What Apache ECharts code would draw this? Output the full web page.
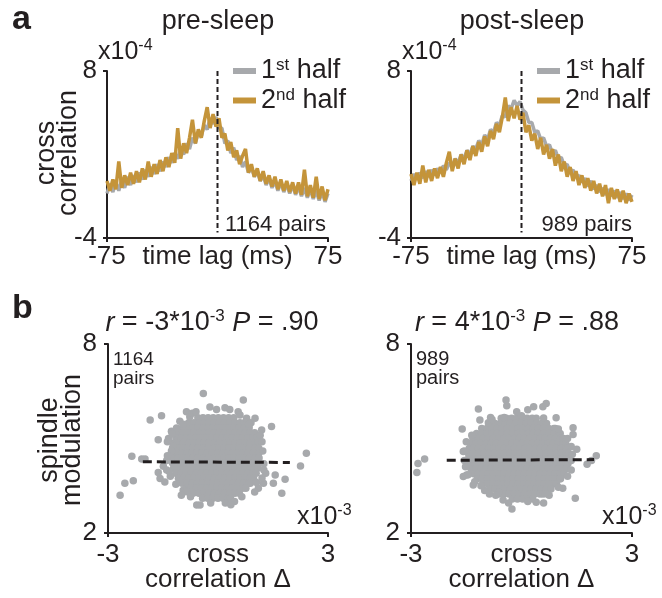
<!DOCTYPE html>
<html><head><meta charset="utf-8">
<script src="https://cdn.jsdelivr.net/npm/echarts@6/dist/echarts.min.js"></script>
<style>html,body{margin:0;padding:0;background:#fff}#c{width:662px;height:598px}</style>
</head><body><div id="c"></div>
<script>
// ---------- data ----------
const lags = [-75,-73,-71,-69,-67,-65,-63,-61,-59,-57,-55,-53,-51,-49,-47,-45,-43,-41,-39,-37,-35,-33,-31,-29,-27,-25,-23,-21,-19,-17,-15,-13,-11,-9,-7,-5,-3,-1,1,3,5,7,9,11,13,15,17,19,21,23,25,27,29,31,33,35,37,39,41,43,45,47,49,51,53,55,57,59,61,63,65,67,69,71,73,75];
// cross correlation (x10^-4)
const preFirst = [-0.8,-0.1,-0.7,0.0,-0.6,0.2,-0.4,0.4,-0.2,0.5, 0.0,0.7,0.2,0.9,0.4,1.1,0.6,1.3,0.8,1.5, 1.1,1.8,1.4,2.1,1.7,2.4,2.0,2.8,2.4,3.2, 2.8,3.6,3.3,4.1,3.8,4.6,4.2,4.7,3.9,3.9, 2.8,3.0,2.1,2.5,1.6,1.9,1.1,1.5,0.7,1.1, 0.4,0.8,0.1,0.5,-0.2,0.3,-0.4,0.1,-0.6,0.0, -0.7,-0.1,-0.8,-0.2,-0.9,-0.3,-1.0,-0.4,-1.1,-0.5, -1.2,-0.6,-1.3,-0.7,-1.4,-0.8];
const preSecond = [0.1,-0.6,0.2,-0.5,1.5,-0.4,0.5,-0.2,0.7,-0.1, 0.8,0.0,1.0,0.2,1.5,0.4,1.3,0.6,1.6,0.8, 1.8,1.1,2.1,1.4,3.9,1.7,2.8,2.1,3.2,4.5, 2.8,3.8,3.2,4.4,5.4,3.9,4.9,4.0,4.6,3.2, 3.5,2.3,2.9,1.8,2.3,1.3,1.9,2.4,0.7,1.3, 0.4,1.0,0.1,0.8,-0.1,0.5,-0.3,0.4,-0.5,0.2, -0.6,0.1,-0.7,0.0,-0.8,0.0,-0.9,0.9,-1.0,-0.2, -1.1,0.4,-1.2,-0.3,-1.3,-0.5];
const postFirst = [0.1,0.6,0.2,0.7,0.3,0.8,0.4,0.9,0.5,1.0, 0.7,1.2,0.9,1.4,1.1,1.7,1.4,2.0,1.7,2.3, 2.0,2.6,2.4,3.0,2.7,3.4,3.1,3.8,3.6,4.3, 4.1,4.8,4.7,5.5,5.3,5.9,5.5,5.8,5.2,5.0, 4.3,4.3,3.6,3.7,3.1,3.2,2.6,2.7,2.1,2.3, 1.7,1.8,1.2,1.3,0.7,0.9,0.4,0.5,0.0,0.3, -0.3,0.1,-0.5,-0.2,-0.7,-0.4,-0.9,-0.5,-1.0,-0.6, -1.1,-0.7,-1.2,-0.8,-1.3,-0.9];
const postSecond = [0.6,-0.2,0.7,-0.1,1.2,0.0,0.9,0.1,1.0,0.3, 1.1,0.4,1.4,2.2,0.8,1.7,1.0,2.0,1.3,2.3, 1.6,2.6,1.9,2.9,2.2,3.3,2.6,3.7,3.1,4.2, 3.6,4.7,6.1,4.4,5.4,4.6,5.5,4.5,5.0,3.6, 4.1,3.0,3.5,2.4,3.2,2.0,2.7,1.7,2.4,1.2, 2.0,0.8,1.5,0.4,1.1,0.1,0.8,-0.2,0.5,-0.4, 0.3,-0.6,0.1,-0.8,-0.1,-1.0,-0.2,-1.5,-0.4,-1.2, -0.5,-1.4,-0.6,-1.5,-0.8,-1.4];
const zeroLagLine = [[0, 8], [0, -3.6]];
const topYTicks = [-4, 8];
const topXTicks = [-75, 75];

// spindle modulation vs cross correlation delta (x10^-3)
// dense core of each cloud, read row by row: [y, [x, x, ...]]
const preCoreRows = [
 [5.66, [-0.55,-0.41,-0.27,-0.13,0.01,0.15,0.29,0.43]],
 [5.50, [-0.80,-0.66,-0.52,-0.38,-0.24,-0.10,0.04,0.18,0.32,0.46,0.60,0.72]],
 [5.34, [-0.97,-0.83,-0.69,-0.55,-0.41,-0.27,-0.13,0.01,0.15,0.29,0.43,0.57,0.71,0.85]],
 [5.18, [-1.08,-0.94,-0.80,-0.66,-0.52,-0.38,-0.24,-0.10,0.04,0.18,0.32,0.46,0.60,0.74,0.88,1.00]],
 [5.02, [-1.15,-1.01,-0.87,-0.73,-0.59,-0.45,-0.31,-0.17,-0.03,0.11,0.25,0.39,0.53,0.67,0.81,0.95,1.06]],
 [4.86, [-1.21,-1.08,-0.94,-0.80,-0.66,-0.52,-0.38,-0.24,-0.10,0.04,0.18,0.32,0.46,0.60,0.74,0.88,1.02,1.09]],
 [4.70, [-1.24,-1.10,-0.96,-0.82,-0.68,-0.54,-0.40,-0.26,-0.12,0.02,0.16,0.30,0.44,0.58,0.72,0.86,1.00,1.11]],
 [4.54, [-1.25,-1.13,-0.99,-0.85,-0.71,-0.57,-0.43,-0.29,-0.15,-0.01,0.13,0.27,0.41,0.55,0.69,0.83,0.97,1.11]],
 [4.38, [-1.25,-1.10,-0.96,-0.82,-0.68,-0.54,-0.40,-0.26,-0.12,0.02,0.16,0.30,0.44,0.58,0.72,0.86,1.00,1.12]],
 [4.22, [-1.24,-1.13,-0.99,-0.85,-0.71,-0.57,-0.43,-0.29,-0.15,-0.01,0.13,0.27,0.41,0.55,0.69,0.83,0.97,1.11]],
 [4.06, [-1.21,-1.08,-0.94,-0.80,-0.66,-0.52,-0.38,-0.24,-0.10,0.04,0.18,0.32,0.46,0.60,0.74,0.88,1.02,1.09]],
 [3.90, [-1.15,-1.01,-0.87,-0.73,-0.59,-0.45,-0.31,-0.17,-0.03,0.11,0.25,0.39,0.53,0.67,0.81,0.95,1.04]],
 [3.74, [-1.08,-0.94,-0.80,-0.66,-0.52,-0.38,-0.24,-0.10,0.04,0.18,0.32,0.46,0.60,0.74,0.88,0.97]],
 [3.58, [-0.98,-0.84,-0.70,-0.56,-0.42,-0.28,-0.14,0.00,0.14,0.28,0.42,0.56,0.70,0.84,0.88]],
 [3.42, [-0.86,-0.73,-0.59,-0.45,-0.31,-0.17,-0.03,0.11,0.25,0.39,0.53,0.67,0.76]],
 [3.26, [-0.68,-0.52,-0.38,-0.24,-0.10,0.04,0.18,0.32,0.46,0.58]],
 [3.10, [-0.42,-0.28,-0.14,0.00,0.14,0.28,0.34]]
];
const preOutliers = [
 [-0.40,6.43],[0.69,6.22],[-0.22,6.0],[-0.04,5.92],[0.19,5.98],[0.32,5.92],[0.55,5.85],[-0.86,5.85],[-0.77,5.69],[-1.54,5.72],[-1.85,5.59],[0.78,5.64],[1.01,5.64],[1.46,5.38],[1.19,5.27],[-1.63,4.96],[2.41,4.53],[-2.35,4.44],[-2.08,4.35],[-1.99,4.35],[2.25,4.13],[1.83,3.71],[1.56,3.84],[1.51,3.58],[-2.54,3.58],[-2.31,3.66],[-2.67,3.20],[-1.58,3.73],[-1.45,3.62],[-1.63,3.92],[1.74,3.26],[-0.58,2.89],[-0.49,2.89],[1.24,3.58],[1.10,3.42],[-0.95,3.36],[-0.86,3.31],[-1.27,5.23],[-1.13,5.33],[-1.04,5.55],[-1.22,4.76],[-1.27,4.6],[-1.49,4.12],[-1.40,4.0],
 [-1.35,5.0],[1.2,4.9],[1.25,4.2],[-1.38,4.45],[1.0,3.3],[-1.0,3.2],[0.2,2.95],[0.45,3.0],[-0.7,5.8],[0.9,5.5],[-1.3,3.8],[1.3,3.9],
 [-1.38,4.9],[-1.4,4.3],[-1.33,3.95],[1.22,4.6],[1.25,4.0],[1.15,5.1],[1.05,3.6],[-1.15,3.55],[-0.95,5.45],[0.85,5.45],[-0.6,5.85],[0.6,5.75],[-0.75,3.15],[0.65,3.15],[-0.2,2.95],[0.35,2.9],[1.2,3.75],[-1.25,5.15]
];
const postCoreRows = [
 [5.64, [-0.55,-0.41,-0.27,-0.13,0.01,0.15,0.29,0.40]],
 [5.48, [-0.86,-0.72,-0.58,-0.44,-0.30,-0.16,-0.02,0.12,0.26,0.40,0.54,0.68]],
 [5.32, [-1.08,-0.94,-0.80,-0.66,-0.52,-0.38,-0.24,-0.10,0.04,0.18,0.32,0.46,0.60,0.74,0.88,0.92]],
 [5.16, [-1.22,-1.08,-0.94,-0.80,-0.66,-0.52,-0.38,-0.24,-0.10,0.04,0.18,0.32,0.46,0.60,0.74,0.88,1.02,1.05]],
 [5.00, [-1.32,-1.18,-1.04,-0.90,-0.76,-0.62,-0.48,-0.34,-0.20,-0.06,0.08,0.22,0.36,0.50,0.64,0.78,0.92,1.06,1.14]],
 [4.84, [-1.38,-1.24,-1.10,-0.96,-0.82,-0.68,-0.54,-0.40,-0.26,-0.12,0.02,0.16,0.30,0.44,0.58,0.72,0.86,1.00,1.14,1.20]],
 [4.68, [-1.42,-1.31,-1.17,-1.03,-0.89,-0.75,-0.61,-0.47,-0.33,-0.19,-0.05,0.09,0.23,0.37,0.51,0.65,0.79,0.93,1.07,1.21,1.25]],
 [4.52, [-1.44,-1.30,-1.16,-1.02,-0.88,-0.74,-0.60,-0.46,-0.32,-0.18,-0.04,0.10,0.24,0.38,0.52,0.66,0.80,0.94,1.08,1.22,1.28]],
 [4.36, [-1.44,-1.31,-1.17,-1.03,-0.89,-0.75,-0.61,-0.47,-0.33,-0.19,-0.05,0.09,0.23,0.37,0.51,0.65,0.79,0.93,1.07,1.21,1.28]],
 [4.20, [-1.42,-1.30,-1.16,-1.02,-0.88,-0.74,-0.60,-0.46,-0.32,-0.18,-0.04,0.10,0.24,0.38,0.52,0.66,0.80,0.94,1.08,1.22,1.26]],
 [4.04, [-1.37,-1.24,-1.10,-0.96,-0.82,-0.68,-0.54,-0.40,-0.26,-0.12,0.02,0.16,0.30,0.44,0.58,0.72,0.86,1.00,1.14,1.22]],
 [3.88, [-1.30,-1.18,-1.04,-0.90,-0.76,-0.62,-0.48,-0.34,-0.20,-0.06,0.08,0.22,0.36,0.50,0.64,0.78,0.92,1.06,1.15]],
 [3.72, [-1.20,-1.06,-0.92,-0.78,-0.64,-0.50,-0.36,-0.22,-0.08,0.06,0.20,0.34,0.48,0.62,0.76,0.90,1.04,1.06]],
 [3.56, [-1.05,-0.92,-0.78,-0.64,-0.50,-0.36,-0.22,-0.08,0.06,0.20,0.34,0.48,0.62,0.76,0.90,0.95]],
 [3.40, [-0.86,-0.72,-0.58,-0.44,-0.30,-0.16,-0.02,0.12,0.26,0.40,0.54,0.68,0.80]],
 [3.24, [-0.62,-0.48,-0.34,-0.20,-0.06,0.08,0.22,0.36,0.50,0.58]],
 [3.08, [-0.25,-0.11,0.03,0.17,0.30]]
];
const postOutliers = [
 [-2.81,4.21],[-2.63,4.35],[-2.84,3.92],[-0.42,6.22],[-0.40,6.04],[-1.17,5.94],[-0.84,5.67],[-0.47,5.67],[-1.13,5.59],[-0.13,5.85],[0.0,5.72],[0.17,5.91],[0.33,6.01],[0.58,6.01],[0.67,6.11],[0.94,5.66],[-1.61,5.30],[1.40,5.34],[1.40,5.13],[1.50,4.66],[2.03,4.45],[1.78,4.18],[1.90,4.30],[-1.58,4.59],[-1.49,3.84],[-1.58,3.79],[-1.31,3.52],[-1.27,3.63],[-0.87,3.24],[-0.62,3.30],[-0.26,2.76],[0.17,3.0],[1.12,3.42],[1.46,3.10],
 [-1.55,4.3],[-1.5,4.9],[1.35,4.0],[1.35,4.75],[-1.0,3.35],[0.75,3.2],[1.0,5.3],[-0.9,5.5],[0.6,2.95],[-0.5,3.05],
 [-1.55,4.6],[-1.52,4.1],[-1.45,3.85],[1.38,4.5],[1.35,4.3],[1.25,3.8],[1.25,5.0],[-1.35,5.1],[-1.1,3.5],[1.0,3.45],[-0.8,5.6],[0.6,5.65],[-0.7,3.2],[0.65,3.25],[-0.35,2.95],[0.4,2.98]
];
const preFit = [[-2.05, 4.26], [1.96, 4.24]];
const postFit = [[-2.03, 4.31], [1.97, 4.33]];
const botYTicks = [2, 8];
const botXTicks = [-3, 3];

// ---------- styling ----------
const F = '"Liberation Sans", Arial, sans-serif';
const TXT = '#231f20';
const GRAY = '#a7a9ac';
const GOLD = '#c4943a';
const zip = (xs, ys) => xs.map((x, i) => [x, ys[i]]);
const fromRows = rows => rows.flatMap(([y, xs]) => xs.map(x => [x, y]));

function xAxis(grid, ticks, name, nameGap, margin, lh) {
  return {
    type: 'value', gridIndex: grid, min: ticks[0], max: ticks[1],
    name, nameLocation: 'middle', nameGap, nameMoveOverlap: false,
    nameTextStyle: { color: TXT, fontFamily: F, fontSize: 26, lineHeight: lh },
    axisLine: { show: true, onZero: false, lineStyle: { color: TXT, width: 2 } },
    axisTick: { show: true, length: 4, customValues: ticks, lineStyle: { color: TXT, width: 2 } },
    axisLabel: { customValues: ticks, margin, color: TXT, fontFamily: F, fontSize: 26, lineHeight: 26, hideOverlap: false },
    splitLine: { show: false }
  };
}
function yAxis(grid, ticks, margin) {
  return {
    type: 'value', gridIndex: grid, min: ticks[0], max: ticks[1],
    axisLine: { show: true, onZero: false, lineStyle: { color: TXT, width: 2 } },
    axisTick: { show: true, length: 4, customValues: ticks, lineStyle: { color: TXT, width: 2 } },
    axisLabel: { customValues: ticks, margin, color: TXT, fontFamily: F, fontSize: 26 },
    splitLine: { show: false }
  };
}
const legendRich = {
  n: { fontFamily: F, fontSize: 27, lineHeight: 28, color: TXT },
  s: { fontFamily: F, fontSize: 17, lineHeight: 16, color: TXT, verticalAlign: 'top' }
};
const legendFmt = n => n === 'first' ? '{n|1}{s|st}{n| half}' : '{n|2}{s|nd}{n| half}';
function legend(left) {
  return { data: ['first', 'second'], left, top: 57, orient: 'vertical', icon: 'rect',
    itemWidth: 23, itemHeight: 6, itemGap: 2, padding: 0, selectedMode: false,
    formatter: legendFmt, textStyle: { rich: legendRich } };
}
function lineSeries(name, axis, ys, color) {
  return { type: 'line', name, xAxisIndex: axis, yAxisIndex: axis, data: zip(lags, ys),
    showSymbol: false, symbol: 'none', lineStyle: { color, width: 3.5 }, itemStyle: { color },
    emphasis: { disabled: true }, silent: true };
}
function dashed(axis, data, dash, width) {
  return { type: 'line', name: 'ref', xAxisIndex: axis, yAxisIndex: axis, data, showSymbol: false,
    symbol: 'none', lineStyle: { color: TXT, width, type: dash }, emphasis: { disabled: true }, silent: true, z: 5 };
}
function scatter(axis, data) {
  return { type: 'scatter', name: 'pairs', xAxisIndex: axis, yAxisIndex: axis, data, symbolSize: 7.5,
    itemStyle: { color: GRAY, opacity: 1 }, emphasis: { disabled: true }, silent: true, large: false };
}
const base = { fontFamily: F, fill: TXT };
function txt(x, y, text, extra) {
  return { type: 'text', x, y, style: Object.assign({ text }, base, extra) };
}
const supRich = (size, sup) => ({
  b: { fontFamily: F, fontSize: size, lineHeight: size + 3, color: TXT },
  i: { fontFamily: F, fontSize: size, lineHeight: size + 3, color: TXT, fontStyle: 'italic' },
  s: { fontFamily: F, fontSize: sup, lineHeight: sup, color: TXT, verticalAlign: 'top' }
});
const grids = [
  { left: 107, top: 71, width: 221, height: 167 },
  { left: 411, top: 71, width: 221, height: 167 },
  { left: 108, top: 344, width: 220, height: 189 },
  { left: 411, top: 344, width: 221, height: 189 }
].map(g => Object.assign({ outerBoundsMode: 'none', containLabel: false }, g));

const option = {
  animation: false,
  backgroundColor: '#fff',
  grid: grids,
  xAxis: [
    xAxis(0, topXTicks, 'time lag (ms)', 6, 6, 26),
    xAxis(1, topXTicks, 'time lag (ms)', 6, 6, 26),
    xAxis(2, botXTicks, 'cross\ncorrelation Δ', 9, 9, 25),
    xAxis(3, botXTicks, 'cross\ncorrelation Δ', 9, 9, 25)
  ],
  yAxis: [
    yAxis(0, topYTicks, 10), yAxis(1, topYTicks, 10),
    yAxis(2, botYTicks, 11), yAxis(3, botYTicks, 11)
  ],
  legend: [legend(233), legend(537)],
  series: [
    lineSeries('first', 0, preFirst, GRAY),
    lineSeries('second', 0, preSecond, GOLD),
    dashed(0, zeroLagLine, [5, 3], 2),
    lineSeries('first', 1, postFirst, GRAY),
    lineSeries('second', 1, postSecond, GOLD),
    dashed(1, zeroLagLine, [5, 3], 2),
    scatter(2, fromRows(preCoreRows).concat(preOutliers)),
    dashed(2, preFit, [9, 5], 3),
    scatter(3, fromRows(postCoreRows).concat(postOutliers)),
    dashed(3, postFit, [9, 5], 3)
  ],
  graphic: [
    txt(12, 3, 'a', { fontSize: 34, fontWeight: 'bold' }),
    txt(12, 292, 'b', { fontSize: 34, fontWeight: 'bold' }),
    txt(218, 22, 'pre-sleep', { fontSize: 27, align: 'center', verticalAlign: 'middle' }),
    txt(522, 22, 'post-sleep', { fontSize: 27, align: 'center', verticalAlign: 'middle' }),
    txt(98, 52, '{b|x10}{s|-4}', { align: 'left', verticalAlign: 'middle', rich: supRich(25, 16) }),
    txt(402, 52, '{b|x10}{s|-4}', { align: 'left', verticalAlign: 'middle', rich: supRich(25, 16) }),
    txt(326, 225, '1164 pairs', { fontSize: 22, align: 'right', verticalAlign: 'middle' }),
    txt(632, 225, '989 pairs', { fontSize: 22, align: 'right', verticalAlign: 'middle' }),
    { type: 'text', x: 58, y: 153, rotation: Math.PI / 2,
      style: Object.assign({ text: 'cross\ncorrelation', fontSize: 27, lineHeight: 22, align: 'center', verticalAlign: 'middle' }, base) },
    { type: 'text', x: 61, y: 440, rotation: Math.PI / 2,
      style: Object.assign({ text: 'spindle\nmodulation', fontSize: 27, lineHeight: 23, align: 'center', verticalAlign: 'middle' }, base) },
    txt(212, 323, '{i|r}{b| = -3*10}{s|-3}{b| }{i|P}{b| = .90}', { align: 'center', verticalAlign: 'middle', rich: supRich(27, 17) }),
    txt(517, 323, '{i|r}{b| = 4*10}{s|-3}{b| }{i|P}{b| = .88}', { align: 'center', verticalAlign: 'middle', rich: supRich(27, 17) }),
    txt(113, 350, '1164\npairs', { fontSize: 19, lineHeight: 19, align: 'left', verticalAlign: 'top' }),
    txt(416, 350, '989\npairs', { fontSize: 20, lineHeight: 19, align: 'left', verticalAlign: 'top' }),
    txt(297, 517, '{b|x10}{s|-3}', { align: 'left', verticalAlign: 'middle', rich: supRich(25, 16) }),
    txt(602, 517, '{b|x10}{s|-3}', { align: 'left', verticalAlign: 'middle', rich: supRich(25, 16) })
  ]
};
echarts.init(document.getElementById('c'), null, { renderer: 'canvas' }).setOption(option);
</script>
</body></html>
